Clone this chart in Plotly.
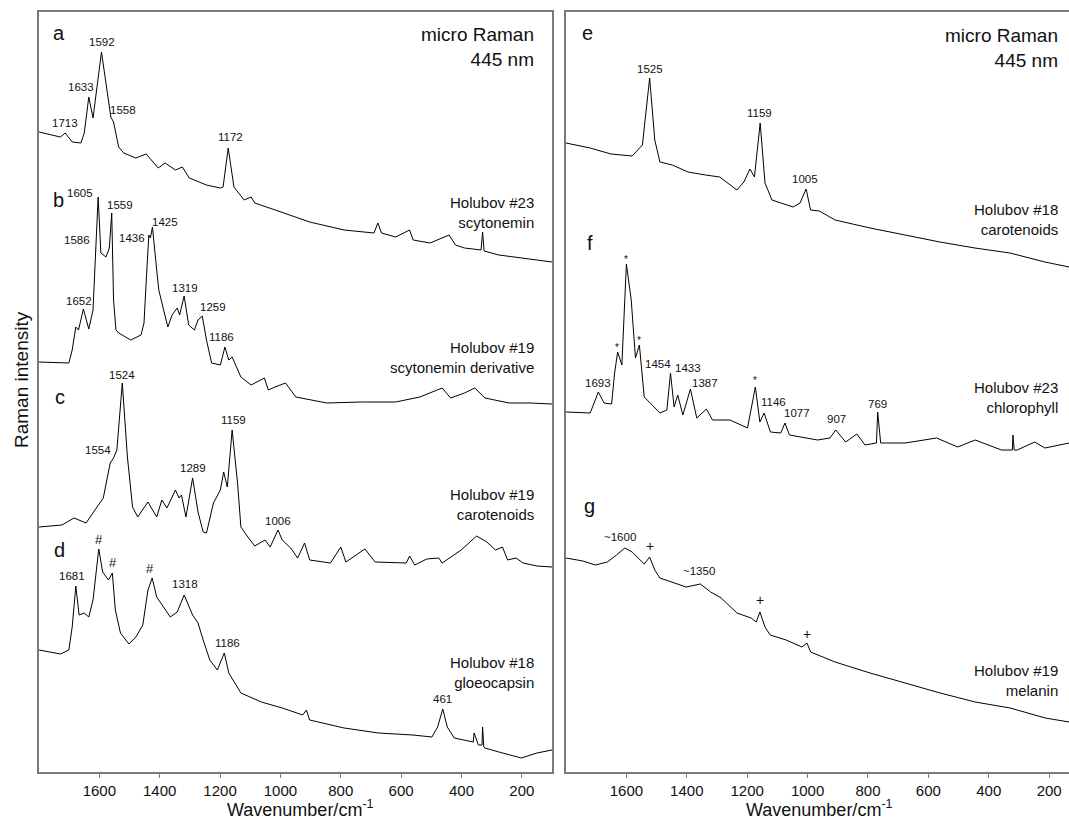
import plotly.graph_objects as go

# ---------------- data ----------------
# wavenumber (cm-1) and relative Raman intensity (arbitrary offset units)
a_wn = [1800, 1729, 1713, 1690, 1661, 1650, 1635, 1621, 1593, 1576, 1562, 1553, 1536, 1519, 1479, 1445, 1427, 1405,
        1382, 1348, 1325, 1302, 1245, 1199, 1190, 1173, 1154, 1120, 1097, 1085, 1017, 903, 789, 690, 677, 665, 618,
        572, 560, 504, 441, 420, 390, 335, 330, 325, 276, 219, 150, 100]
a_int = [640, 635, 639, 630, 629, 639, 675, 654, 720, 682, 655, 650, 625, 619, 614, 618, 612, 604,
         609, 602, 605, 594, 587, 584, 585, 624, 585, 572, 575, 569, 562, 550, 542, 539, 549, 539, 535,
         542, 532, 529, 537, 527, 524, 522, 540, 521, 517, 515, 512, 510]

b_wn = [1800, 1701, 1690, 1678, 1669, 1653, 1635, 1621, 1612, 1604, 1595, 1578, 1567, 1559, 1553, 1545, 1536, 1496,
        1462, 1452, 1445, 1436, 1431, 1424, 1410, 1403, 1387, 1373, 1359, 1342, 1334, 1319, 1304, 1285, 1273, 1259,
        1245, 1228, 1199, 1184, 1171, 1160, 1131, 1097, 1053, 1040, 1018, 983, 949, 846, 732, 618, 538, 464, 436,
        390, 356, 322, 242, 173, 100]
b_int = [410, 409, 422, 445, 442, 463, 443, 462, 522, 575, 519, 515, 524, 559, 472, 442, 439, 432,
         437, 449, 489, 537, 534, 545, 502, 482, 462, 445, 457, 464, 457, 476, 447, 442, 452, 456,
         432, 409, 407, 425, 412, 415, 395, 387, 394, 382, 385, 389, 375, 369, 370, 370, 375, 384, 374,
         379, 384, 374, 369, 369, 368]

c_wn = [1800, 1724, 1684, 1644, 1610, 1587, 1564, 1553, 1542, 1524, 1507, 1490, 1473, 1439, 1410, 1393, 1376, 1348,
        1336, 1328, 1313, 1291, 1273, 1256, 1245, 1222, 1199, 1188, 1176, 1160, 1142, 1131, 1108, 1085, 1051, 1034,
        1008, 994, 966, 943, 920, 903, 834, 800, 783, 720, 686, 583, 572, 555, 515, 475, 464, 401, 350, 316, 287,
        264, 247, 219, 196, 150, 100]
c_int = [245, 247, 254, 249, 264, 274, 309, 314, 322, 389, 315, 265, 255, 270, 255, 272, 264, 282,
         274, 277, 255, 294, 260, 240, 239, 269, 282, 300, 285, 342, 289, 245, 235, 226, 232, 225,
         242, 232, 224, 214, 229, 212, 209, 225, 210, 223, 210, 209, 216, 207, 213, 214, 209, 222, 236, 230, 222,
         225, 212, 214, 209, 206, 205]

d_wn = [1800, 1758, 1729, 1701, 1690, 1678, 1667, 1650, 1635, 1621, 1602, 1589, 1570, 1557, 1547, 1530, 1502, 1479,
        1456, 1439, 1425, 1410, 1387, 1365, 1342, 1319, 1291, 1273, 1256, 1234, 1209, 1186, 1171, 1131, 1063, 994,
        926, 914, 903, 789, 675, 561, 498, 479, 462, 447, 424, 361, 358, 344, 332, 330, 326, 322, 276, 202, 150, 100]
d_int = [122, 120, 118, 122, 145, 186, 157, 159, 155, 172, 223, 200, 192, 199, 162, 139, 128, 135,
         147, 182, 194, 175, 165, 155, 160, 177, 157, 149, 132, 112, 102, 119, 99, 79, 70, 64,
         57, 62, 52, 44, 39, 37, 35, 45, 63, 45, 34, 30, 39, 27, 27, 45, 25, 24, 20, 14, 19, 22]

e_wn = [1800, 1720, 1651, 1581, 1547, 1523, 1506, 1489, 1448, 1396, 1338, 1291, 1234, 1211, 1191, 1176, 1157, 1141,
        1118, 1048, 1025, 1005, 990, 961, 909, 793, 677, 562, 446, 330, 214, 134]
e_int = [629, 624, 618, 616, 627, 694, 632, 610, 607, 600, 597, 595, 582, 590, 603, 595, 649, 589,
         572, 565, 569, 583, 562, 561, 552, 544, 537, 530, 524, 519, 510, 505]

f_wn = [1800, 1720, 1707, 1693, 1674, 1649, 1639, 1629, 1615, 1600, 1584, 1570, 1557, 1541, 1518, 1489, 1466, 1454,
        1442, 1430, 1413, 1388, 1367, 1335, 1315, 1257, 1199, 1173, 1158, 1144, 1123, 1089, 1075, 1060, 967, 926,
        907, 874, 837, 810, 772, 768, 758, 677, 573, 503, 445, 358, 322, 320, 316, 306, 248, 214, 134]
f_int = [360, 359, 369, 380, 369, 368, 399, 420, 407, 508, 472, 414, 427, 375, 368, 359, 362, 399,
         365, 377, 357, 383, 354, 363, 352, 352, 344, 385, 350, 359, 340, 339, 349, 337, 332, 334,
         342, 330, 338, 327, 329, 360, 329, 329, 334, 325, 332, 322, 322, 337, 322, 322, 330, 324, 329]

g_wn = [1800, 1744, 1703, 1663, 1633, 1605, 1581, 1558, 1541, 1523, 1506, 1489, 1442, 1402, 1355, 1321, 1286, 1234,
        1187, 1170, 1158, 1141, 1124, 1071, 1019, 1002, 990, 909, 793, 677, 561, 445, 329, 213, 134]
g_int = [214, 211, 207, 210, 217, 224, 220, 213, 208, 215, 202, 194, 189, 185, 188, 180, 174, 159,
         154, 150, 160, 145, 137, 132, 125, 129, 120, 110, 99, 89, 79, 70, 64, 54, 50]

tick_vals = [1600, 1400, 1200, 1000, 800, 600, 400, 200]
tick_text = ["1600", "1400", "1200", "1000", "800", "600", "400", "200"]

# peak labels: (text, wavenumber position, intensity position)
left_peaks = [("1592", 1591, 730), ("1633", 1661, 685), ("1558", 1522, 662), ("1713", 1713, 649), ("1172", 1165, 635),
              ("1605", 1664, 579), ("1559", 1530, 567), ("1586", 1673, 532), ("1436", 1492, 534), ("1425", 1384, 550),
              ("1652", 1669, 471), ("1319", 1316, 484), ("1259", 1222, 465), ("1186", 1194, 435),
              ("1524", 1524, 397), ("1554", 1606, 322), ("1289", 1291, 304), ("1159", 1156, 352), ("1006", 1008, 251),
              ("1681", 1690, 196), ("#", 1602, 233), ("#", 1556, 210), ("#", 1431, 204), ("1318", 1316, 188),
              ("1186", 1174, 129), ("461", 462, 73)]
right_peaks = [("1525", 1523, 703), ("1159", 1158, 659), ("1005", 1007, 593),
               ("*", 1600, 512), ("*", 1632, 424), ("*", 1558, 431), ("1693", 1695, 389), ("1454", 1494, 408),
               ("1433", 1396, 404), ("1387", 1340, 389), ("*", 1173, 391), ("1146", 1112, 370), ("1077", 1036, 359),
               ("907", 903, 353), ("769", 768, 368),
               ("~1600", 1622, 235), ("+", 1521, 226), ("~1350", 1359, 201), ("+", 1158, 172), ("+", 1002, 138)]
left_letters = [("a", 1734, 739), ("b", 1734, 572), ("c", 1730, 375), ("d", 1732, 222)]
right_letters = [("e", 1730, 739), ("f", 1721, 529), ("g", 1723, 266)]
left_samples = [("micro Raman<br>445 nm", 725, 19), ("Holubov #23<br>scytonemin", 559, 15),
                ("Holubov #19<br>scytonemin derivative", 414, 15), ("Holubov #19<br>carotenoids", 267, 15),
                ("Holubov #18<br>gloeocapsin", 100, 15)]
right_samples = [("micro Raman<br>445 nm", 724, 19), ("Holubov #18<br>carotenoids", 552, 15),
                 ("Holubov #23<br>chlorophyll", 374, 15), ("Holubov #19<br>melanin", 92, 15)]

# ---------------- figure ----------------
W, H = 1069, 819
FONT = "Liberation Sans, Arial, sans-serif"
FRAME = "#7a7a7a"
INK = "#111111"

fig = go.Figure()
for wn, it in [(a_wn, a_int), (b_wn, b_int), (c_wn, c_int), (d_wn, d_int)]:
    fig.add_trace(go.Scatter(x=wn, y=it, mode="lines", line=dict(color="black", width=1),
                             xaxis="x", yaxis="y", showlegend=False, hoverinfo="skip"))
for wn, it in [(e_wn, e_int), (f_wn, f_int), (g_wn, g_int)]:
    fig.add_trace(go.Scatter(x=wn, y=it, mode="lines", line=dict(color="black", width=1),
                             xaxis="x2", yaxis="y2", showlegend=False, hoverinfo="skip"))

ydom = [47 / H, 807 / H]
xcommon = dict(tickmode="array", tickvals=tick_vals, ticktext=tick_text, ticks="outside", ticklen=4,
               tickcolor=FRAME, tickwidth=1, showline=True, linecolor=FRAME, linewidth=1.5,
               showgrid=False, zeroline=False, tickfont=dict(family=FONT, size=15, color=INK))
ycommon = dict(range=[0, 760], showticklabels=False, ticks="", showgrid=False, zeroline=False,
               showline=True, linecolor=FRAME, linewidth=1.5)

fig.update_layout(
    width=W, height=H, margin=dict(l=0, r=0, t=0, b=0),
    paper_bgcolor="white", plot_bgcolor="white",
    xaxis=dict(domain=[39 / W, 552 / W], range=[1800, 100], mirror=True, **xcommon),
    yaxis=dict(domain=ydom, mirror=True, **ycommon),
    xaxis2=dict(domain=[566 / W, 1.0], range=[1800, 134.4], mirror=True, anchor="y2", **xcommon),
    yaxis2=dict(domain=ydom, mirror=False, anchor="x2", **ycommon),
)

ann = []
for txt, x, y in left_peaks:
    ann.append(dict(text=txt, x=x, y=y, xref="x", yref="y", showarrow=False,
                    font=dict(family=FONT, size=11.5 if txt not in "#*+" else 13, color=INK)))
for txt, x, y in right_peaks:
    ann.append(dict(text=txt, x=x, y=y, xref="x2", yref="y2", showarrow=False,
                    font=dict(family=FONT, size=11.5 if txt not in ("*", "+") else (10 if txt == "*" else 14),
                              color=INK)))
for txt, x, y in left_letters:
    ann.append(dict(text=txt, x=x, y=y, xref="x", yref="y", showarrow=False,
                    font=dict(family=FONT, size=20, color=INK)))
for txt, x, y in right_letters:
    ann.append(dict(text=txt, x=x, y=y, xref="x2", yref="y2", showarrow=False,
                    font=dict(family=FONT, size=20, color=INK)))
for txt, y, fs in left_samples:
    ann.append(dict(text=txt, x=154, y=y, xref="x", yref="y", showarrow=False, xanchor="right", align="right",
                    font=dict(family=FONT, size=fs, color=INK)))
for txt, y, fs in right_samples:
    ann.append(dict(text=txt, x=164, y=y, xref="x2", yref="y2", showarrow=False, xanchor="right", align="right",
                    font=dict(family=FONT, size=fs, color=INK)))

# axis titles
ann.append(dict(text="Wavenumber/cm<sup>-1</sup>", x=300 / W, y=(H - 808) / H, xref="paper", yref="paper",
                xanchor="center", yanchor="middle", showarrow=False, font=dict(family=FONT, size=18, color=INK)))
ann.append(dict(text="Wavenumber/cm<sup>-1</sup>", x=819 / W, y=(H - 808) / H, xref="paper", yref="paper",
                xanchor="center", yanchor="middle", showarrow=False, font=dict(family=FONT, size=18, color=INK)))
ann.append(dict(text="Raman intensity", x=21 / W, y=(H - 380) / H, xref="paper", yref="paper",
                xanchor="center", yanchor="middle", showarrow=False, textangle=-90,
                font=dict(family=FONT, size=19, color=INK)))
fig.update_layout(annotations=ann)

fig.write_html("out.html", config={"displayModeBar": False},
               post_script="document.body.style.margin='0';document.documentElement.style.overflow='hidden';")
